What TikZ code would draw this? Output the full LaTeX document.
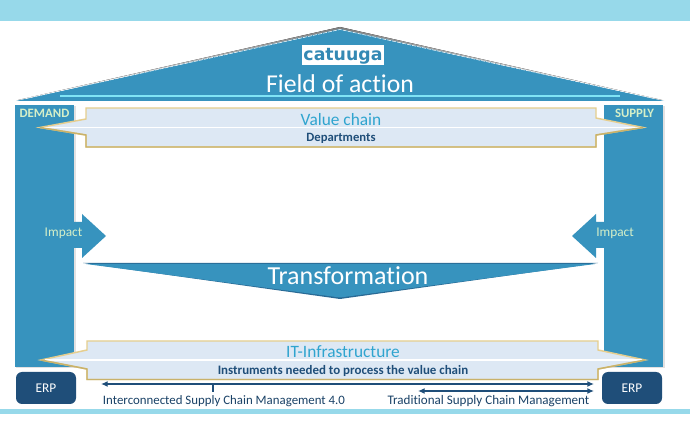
\documentclass[tikz,border=0pt]{standalone}
\usepackage{fontspec}
\setmainfont[Ligatures=NoCommon]{Carlito}
\newfontfamily\logofont{DejaVu Sans}
\usetikzlibrary{arrows.meta}
\definecolor{band}{HTML}{97D9EA}
\definecolor{tealblue}{HTML}{3793BE}
\definecolor{navy}{HTML}{1F4E79}
\definecolor{pale}{HTML}{DDE8F4}
\definecolor{gold}{HTML}{E6CE8E}
\definecolor{darkgold}{HTML}{C9B26A}
\definecolor{cyanline}{HTML}{7FE3F5}
\definecolor{valuetxt}{HTML}{2FA4CF}
\definecolor{demandtxt}{HTML}{D5EFC8}
\definecolor{shade}{HTML}{B9B4B4}
\tikzset{
  mass/.style={fill=tealblue,draw=none},
  softshadow/.style={fill=shade,draw=none,opacity=.4},
  callout/.style={fill=pale,draw=gold,line width=1.1pt,line join=miter},
  calloutlow/.style={draw=darkgold,line width=1.1pt,line join=miter},
  divider/.style={draw=white,line width=1.2pt},
  erpbox/.style={fill=navy,rounded corners=4.5pt,text=white,font=\fontsize{10}{11}\selectfont,inner sep=0pt},
  title/.style={text=white,inner sep=0pt},
  steel/.style={draw=navy,line width=1.4pt,{Latex[length=5pt,width=4.5pt]}-{Latex[length=5pt,width=4.5pt]}},
  caption/.style={text=navy!85!black,inner sep=0pt},
}
\begin{document}
\begin{tikzpicture}[x=0.75pt,y=-0.75pt]
\useasboundingbox (0,0) rectangle (690,431);
\fill[white] (0,0) rectangle (690,431);
\fill[band] (0,0) rectangle (690,21);
\fill[band] (0,409) rectangle (690,414);
% roof
\fill[shade] (340,27) -- (18,100) -- (662,100) -- cycle;
\fill[mass] (340,29) -- (16,101) -- (664,101) -- cycle;
\draw[white,line width=.4pt,dash pattern=on 3pt off .8pt] (26,98.5) -- (340,29.5) -- (654,98.5);
\draw[cyanline,line width=.9pt] (60,96) -- (620,96);
% pillars
\fill[softshadow] (16,106) rectangle (76,368);
\fill[softshadow] (605,106) rectangle (665,368);
\fill[mass] (15,105) rectangle (74,367);
\fill[mass] (604,105) rectangle (663,367);
% impact arrows
\fill[mass] (74,222) -- (82,222) -- (82,214) -- (106,236) -- (82,258) -- (82,248) -- (74,248) -- cycle;
\fill[mass] (604,222) -- (596,222) -- (596,214) -- (572,236) -- (596,258) -- (596,248) -- (604,248) -- cycle;
% transformation
\fill[navy!60!tealblue] (83,263) -- (598,263) -- (340,299) -- cycle;
\fill[mass] (86,264) -- (595,264) -- (340,297.5) -- cycle;
% callouts
\draw[callout] (86,108) -- (596,108) -- (596,118) -- (643,127.5) -- (596,135) -- (596,147) -- (86,147) -- (86,135) -- (40,127.5) -- (86,119) -- cycle;
\draw[divider] (44,127.5) -- (640,127.5);
\draw[calloutlow] (40,127.5) -- (86,135) -- (86,147) -- (596,147) -- (596,135) -- (643,127.5);
\draw[callout] (87,341) -- (598,341) -- (598,350) -- (645,360) -- (598,369) -- (598,379.5) -- (87,379.5) -- (87,369) -- (41,360) -- (87,350) -- cycle;
\draw[divider] (45,360) -- (642,360);
\draw[calloutlow] (41,360) -- (87,369) -- (87,379.5) -- (598,379.5) -- (598,369) -- (645,360);
% logo
\node[fill=white,minimum width=61.5pt,minimum height=14.5pt,inner sep=0pt] (logo) at (343,55) {};
\node[inner sep=0pt,text=tealblue!85!navy,font=\logofont\bfseries\fontsize{13}{13}\selectfont] (logotext) at (343,56) {catuuga};
% labels
\node[title,font=\fontsize{19.3}{22}\selectfont] (field) at (340,84) {Field of action};
\node[title,font=\fontsize{19.5}{22}\selectfont] (transf) at (348,276) {Transformation};
\node[inner sep=0pt,text=valuetxt,font=\fontsize{13}{14}\selectfont] (vc) at (341,120) {Value chain};
\node[inner sep=0pt,text=navy,font=\bfseries\fontsize{9.5}{11}\selectfont] (dep) at (341,138.5) {Departments};
\node[inner sep=0pt,text=valuetxt,font=\fontsize{13}{14}\selectfont] (it) at (343,352) {IT-Infrastructure};
\node[inner sep=0pt,text=navy,font=\bfseries\fontsize{9.7}{11}\selectfont] (inst) at (343,371) {Instruments needed to process the value chain};
\node[inner sep=0pt,text=demandtxt,font=\bfseries\fontsize{9.6}{10}\selectfont] (dem) at (44.5,113) {DEMAND};
\node[inner sep=0pt,text=demandtxt,font=\bfseries\fontsize{9.6}{10}\selectfont] (sup) at (634.5,113) {SUPPLY};
\node[inner sep=0pt,text=demandtxt,font=\fontsize{10}{10}\selectfont] (impl) at (63.5,233.5) {Impact};
\node[inner sep=0pt,text=demandtxt,font=\fontsize{10}{10}\selectfont] (impr) at (615,233.5) {Impact};
% ERP
\node[erpbox,minimum width=45pt,minimum height=24pt] (erpl) at (46,388) {ERP};
\node[erpbox,minimum width=45pt,minimum height=24pt] (erpr) at (632,388) {ERP};
% captions
\node[caption,font=\fontsize{9.65}{11}\selectfont] (cap1) at (224,401) {Interconnected Supply Chain Management 4.0};
\node[caption,font=\fontsize{9.8}{11}\selectfont] (cap2) at (488.5,401) {Traditional Supply Chain Management};
% arrows
\coordinate (a1) at (101,384);
\coordinate (a2) at (594,384);
\coordinate (b1) at (418,391);
\coordinate (b2) at (594,391);
\coordinate (s1) at (213,384);
\coordinate (s2) at (213,392);
\draw[steel] (a1) -- (a2);
\draw[steel] (b1) -- (b2);
\draw[navy,line width=1pt] (s1) -- (s2);
\end{tikzpicture}
\end{document}
